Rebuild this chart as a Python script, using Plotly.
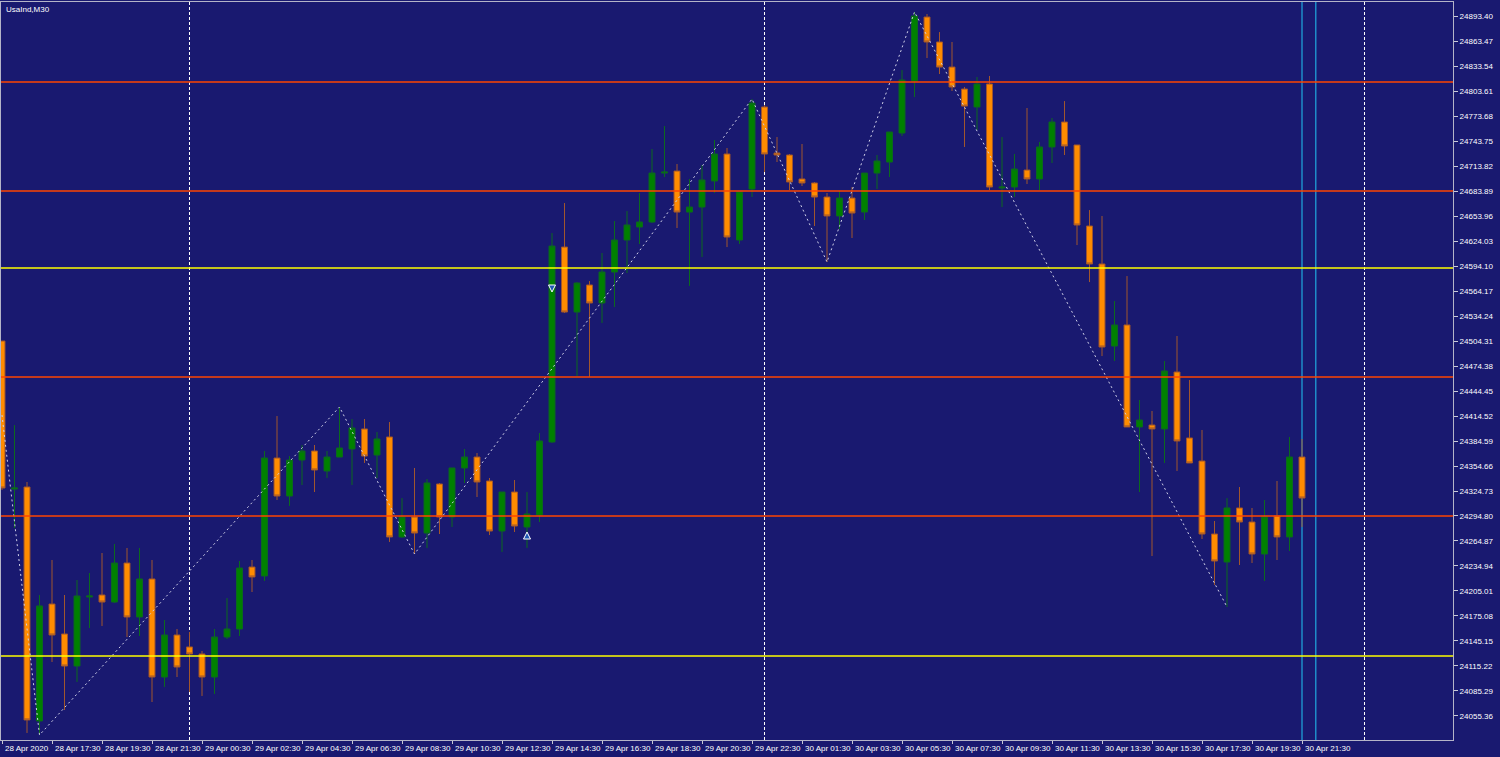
import plotly.graph_objects as go

# M30 bars, 28 Apr 2020 15:30 .. 30 Apr 2020 21:30 (market closes 23:00-00:00)
bar_open = [24504.3, 24327.1, 24329.5, 24049.4, 24189.4, 24153.5, 24115.2, 24197.8, 24200.2, 24191.8,
            24238.5, 24173.9, 24219.4, 24102.0, 24152.3, 24138.0, 24129.6, 24102.0, 24149.9, 24159.5,
            24233.7, 24223.0, 24364.2, 24318.7, 24361.8, 24372.6, 24348.7, 24365.4, 24375.0, 24399.0,
            24367.8, 24389.4, 24269.7, 24293.6, 24274.4, 24333.1, 24293.6, 24352.3, 24365.4, 24336.7,
            24276.8, 24323.5, 24281.6, 24296.0, 24383.4, 24616.8, 24539.0, 24571.4, 24549.8, 24586.9,
            24625.2, 24640.8, 24646.8, 24705.4, 24707.8, 24658.7, 24664.7, 24695.9, 24728.2, 24625.2,
            24686.3, 24784.5, 24729.4, 24727.0, 24698.3, 24693.5, 24676.7, 24654.0, 24675.5, 24658.7,
            24705.4, 24718.6, 24753.3, 24815.6, 24892.2, 24862.3, 24832.3, 24806.0, 24784.5, 24812.0,
            24687.5, 24688.7, 24709.0, 24698.3, 24736.6, 24766.5, 24739.0, 24642.0, 24596.5, 24498.3,
            24523.5, 24401.4, 24403.7, 24399.0, 24467.2, 24388.2, 24360.6, 24273.2, 24239.7, 24304.4,
            24287.6, 24249.3, 24294.8, 24269.7, 24365.4]
bar_high = [24504.3, 24403.7, 24335.5, 24200.2, 24242.1, 24200.2, 24218.2, 24226.6, 24250.5, 24261.3,
            24256.5, 24256.5, 24242.1, 24170.3, 24159.5, 24155.9, 24133.2, 24159.5, 24196.6, 24240.9,
            24242.1, 24372.6, 24414.5, 24366.6, 24379.8, 24379.8, 24372.6, 24425.3, 24410.9, 24410.9,
            24395.4, 24407.3, 24316.3, 24352.3, 24339.1, 24334.3, 24352.3, 24375.0, 24370.2, 24340.3,
            24323.5, 24337.9, 24323.5, 24394.2, 24633.6, 24669.5, 24574.9, 24576.1, 24609.7, 24648.0,
            24659.9, 24681.5, 24734.2, 24761.7, 24716.2, 24698.3, 24715.0, 24744.9, 24735.4, 24682.7,
            24794.0, 24786.8, 24748.5, 24728.2, 24740.2, 24694.7, 24681.5, 24683.9, 24688.7, 24705.4,
            24727.0, 24754.5, 24828.7, 24898.2, 24895.8, 24874.2, 24862.3, 24808.4, 24820.4, 24821.6,
            24748.5, 24728.2, 24783.3, 24742.6, 24771.3, 24791.6, 24739.0, 24661.1, 24654.0, 24552.2,
            24582.1, 24433.7, 24420.5, 24480.4, 24510.3, 24457.6, 24397.8, 24288.8, 24316.3, 24329.5,
            24304.4, 24314.0, 24336.7, 24389.4, 24387.0]
bar_low = [24325.9, 24280.4, 24035.0, 24032.6, 24120.0, 24062.5, 24096.1, 24160.7, 24163.1, 24190.6,
           24149.9, 24151.1, 24072.1, 24090.1, 24102.0, 24084.1, 24079.3, 24081.7, 24147.5, 24151.1,
           24203.8, 24217.0, 24314.0, 24306.8, 24331.9, 24323.5, 24340.3, 24365.4, 24331.9, 24358.3,
           24340.3, 24263.7, 24268.5, 24249.3, 24256.5, 24273.2, 24281.6, 24334.3, 24317.5, 24272.0,
           24251.7, 24275.6, 24256.5, 24287.6, 24382.2, 24537.8, 24462.4, 24461.2, 24525.9, 24545.0,
           24585.7, 24620.4, 24645.6, 24700.6, 24639.6, 24570.2, 24604.9, 24681.5, 24616.8, 24620.4,
           24676.7, 24706.6, 24718.6, 24685.1, 24689.9, 24642.0, 24598.9, 24638.4, 24627.6, 24649.2,
           24686.3, 24700.6, 24749.7, 24796.4, 24843.1, 24824.0, 24803.6, 24736.6, 24756.9, 24685.1,
           24664.7, 24676.7, 24692.3, 24685.1, 24717.4, 24727.0, 24619.2, 24574.9, 24486.3, 24480.4,
           24401.4, 24323.5, 24246.9, 24358.3, 24348.7, 24358.3, 24267.3, 24212.2, 24185.9, 24236.1,
           24238.5, 24217.0, 24242.1, 24252.9, 24281.6]
bar_close = [24328.3, 24328.3, 24050.6, 24187.1, 24152.3, 24115.2, 24199.0, 24199.0, 24191.8, 24238.5,
             24173.9, 24219.4, 24102.0, 24152.3, 24114.0, 24129.6, 24102.0, 24149.9, 24159.5, 24232.5,
             24221.8, 24364.2, 24318.7, 24361.8, 24372.6, 24349.9, 24365.4, 24376.2, 24400.2, 24366.6,
             24387.0, 24269.7, 24293.6, 24274.4, 24334.3, 24293.6, 24352.3, 24365.4, 24335.5, 24276.8,
             24323.5, 24282.8, 24297.2, 24384.6, 24618.0, 24539.0, 24573.7, 24549.8, 24586.9, 24625.2,
             24643.2, 24646.8, 24705.4, 24706.6, 24658.7, 24664.7, 24697.1, 24728.2, 24628.8, 24682.7,
             24789.2, 24728.2, 24727.0, 24694.7, 24693.5, 24676.7, 24654.0, 24675.5, 24657.5, 24705.4,
             24719.8, 24754.5, 24816.8, 24893.4, 24862.3, 24832.3, 24808.4, 24785.6, 24812.0, 24688.7,
             24688.7, 24710.2, 24698.3, 24736.6, 24766.5, 24737.8, 24643.2, 24596.5, 24497.1, 24523.5,
             24401.4, 24409.7, 24399.0, 24468.4, 24384.6, 24358.3, 24273.2, 24240.9, 24304.4, 24287.6,
             24249.3, 24293.6, 24269.7, 24365.4, 24316.3]

# time axis labels, one every 4 bars
label_text = ["28 Apr 2020", "28 Apr 17:30", "28 Apr 19:30", "28 Apr 21:30", "29 Apr 00:30",
              "29 Apr 02:30", "29 Apr 04:30", "29 Apr 06:30", "29 Apr 08:30", "29 Apr 10:30",
              "29 Apr 12:30", "29 Apr 14:30", "29 Apr 16:30", "29 Apr 18:30", "29 Apr 20:30",
              "29 Apr 22:30", "30 Apr 01:30", "30 Apr 03:30", "30 Apr 05:30", "30 Apr 07:30",
              "30 Apr 09:30", "30 Apr 11:30", "30 Apr 13:30", "30 Apr 15:30", "30 Apr 17:30",
              "30 Apr 19:30", "30 Apr 21:30"]
label_bar = [4 * k for k in range(len(label_text))]

# zigzag swing points (bar index, price)
zz_bar = [0, 3, 27, 33, 60, 66, 73, 98]
zz_price = [24415.7, 24032.6, 24425.3, 24249.3, 24794.0, 24598.9, 24898.2, 24185.9]

# horizontal levels
red_levels = [24814.4, 24683.9, 24461.2, 24294.8]
yellow_levels = [24591.7, 24127.2]

# day separators and the two blue verticals
day_sep = [15, 61, 109]
blue_lines = [104, 105.1]

# trade arrows
arrow_bar = [42, 44]
arrow_price = [24275.6, 24563.0]
arrow_sym = ["arrow-up", "arrow-down"]

bars = list(range(len(bar_open)))

bg = "#191970"
font = dict(family="Liberation Sans", size=8, color="white")

fig = go.Figure()

fig.add_trace(go.Candlestick(
    x=bars, open=bar_open, high=bar_high, low=bar_low, close=bar_close,
    increasing=dict(fillcolor="#008000", line=dict(color="#0C6A1E", width=1)),
    decreasing=dict(fillcolor="#FF8C00", line=dict(color="#A0562D", width=1)),
    whiskerwidth=0, hoverinfo="skip", showlegend=False,
))

fig.add_trace(go.Scatter(
    x=zz_bar, y=zz_price, mode="lines",
    line=dict(color="#D0D0E8", width=1, dash="2px,3px"),
    hoverinfo="skip", showlegend=False,
))

fig.add_trace(go.Scatter(
    x=arrow_bar, y=arrow_price, mode="markers",
    marker=dict(symbol=arrow_sym, size=7, color="#1E5AB4", line=dict(color="white", width=1)),
    hoverinfo="skip", showlegend=False,
))

for b in day_sep:
    fig.add_vline(x=b, line=dict(color="white", width=1, dash="3px,2px"), layer="below")
for b in blue_lines:
    fig.add_vline(x=b, line=dict(color="#1E8CC8", width=1.5), layer="below")
for lv in red_levels:
    fig.add_hline(y=lv, line=dict(color="#FF4500", width=1.5))
for lv in yellow_levels:
    fig.add_hline(y=lv, line=dict(color="#FFFF00", width=1.5))

for b, t in zip(label_bar, label_text):
    fig.add_annotation(x=b, xref="x", y=0, yref="paper", text=t, showarrow=False,
                       xanchor="left", yanchor="top", xshift=1, yshift=-2, font=font)

fig.add_annotation(x=0, xref="paper", y=1, yref="paper", text="UsaInd,M30", showarrow=False,
                   xanchor="left", yanchor="top", xshift=3, yshift=-1, font=font)

fig.update_layout(
    width=1500, height=757,
    margin=dict(l=1, r=47, t=2, b=17),
    paper_bgcolor=bg, plot_bgcolor=bg,
    font=font,
    boxgap=0.32,
    xaxis=dict(range=[-0.08, 116.08], rangeslider=dict(visible=False), showgrid=False,
               zeroline=False, tickvals=label_bar, showticklabels=False, ticks="outside",
               ticklen=3, tickcolor="#C8C8D8", showline=True, linecolor="#B4B4C8",
               mirror=True, linewidth=1),
    yaxis=dict(range=[24026.6, 24910.2], side="right", showgrid=False, zeroline=False,
               tick0=24055.36, dtick=29.93, tickformat=".2f", ticks="outside", ticklen=4,
               tickcolor="#C8C8D8", showline=True, linecolor="#B4B4C8", mirror=True,
               linewidth=1, tickfont=font, automargin=False),
)

# the page body has an 8px default margin; drop it so the chart fills the window
fig.write_html("out.html", config={"displayModeBar": False},
               post_script="document.body.style.margin='0';")
